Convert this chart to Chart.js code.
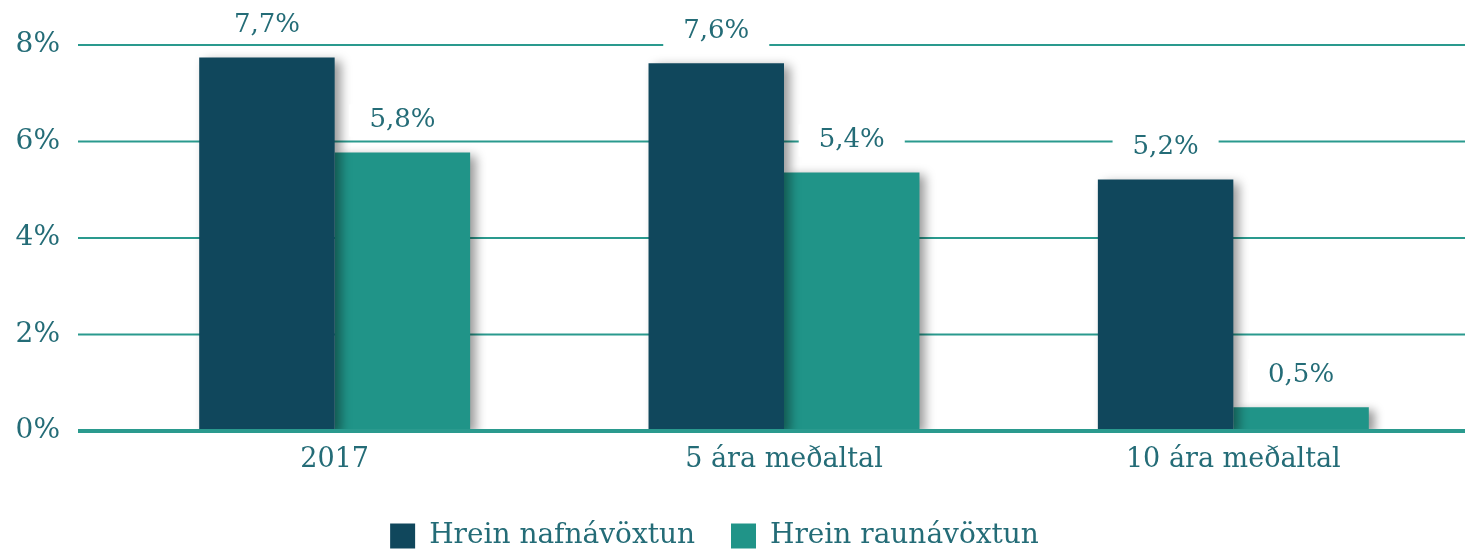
<!DOCTYPE html>
<html>
<head>
<meta charset="utf-8">
<script src="https://cdn.jsdelivr.net/npm/chart.js@4/dist/chart.umd.min.js"></script>
<style>
  html, body { margin: 0; padding: 0; background: #fff; }
  canvas { display: block; }
</style>
</head>
<body>
<canvas id="chart" width="1465" height="549"></canvas>
<script>
const categories = ['2017', '5 ára meðaltal', '10 ára meðaltal'];
const nafnavoxtun = [7.74, 7.62, 5.21];
const raunavoxtun = [5.77, 5.36, 0.49];
const yTicks = [0, 2, 4, 6, 8];

const TEXT = '#246c77';
const GRID = '#2a9a8e';
const FONT = "'DejaVu Serif', serif";

function drawLines(chart, zeroOnly) {
  const { ctx, scales: { y } } = chart;
  ctx.save();
  ctx.strokeStyle = GRID;
  y.ticks.forEach(t => {
    if ((t.value === 0) !== zeroOnly) return;
    const py = y.getPixelForValue(t.value);
    ctx.lineWidth = t.value === 0 ? 4 : 2;
    ctx.beginPath();
    ctx.moveTo(78, py);
    ctx.lineTo(chart.width, py);
    ctx.stroke();
  });
  ctx.restore();
}

// línur, skuggi á súlum og gildi fyrir ofan súlur
const barExtras = {
  id: 'barExtras',
  afterLayout(chart) {
    // færa skýringar aðeins til vinstri
    chart.legend.left -= 22;
    chart.legend.right -= 22;
  },
  beforeDatasetsDraw(chart) {
    drawLines(chart, false);
    const ctx = chart.ctx;
    ctx.save();
    ctx.shadowColor = 'rgba(0,0,0,0.4)';
    ctx.shadowBlur = 10;
    ctx.shadowOffsetX = 6;
    ctx.shadowOffsetY = 3;
  },
  afterDatasetsDraw(chart) {
    const ctx = chart.ctx;
    ctx.restore();
    drawLines(chart, true);

    ctx.save();
    ctx.font = '26px ' + FONT;
    ctx.textAlign = 'center';
    ctx.textBaseline = 'middle';
    chart.data.datasets.forEach((ds, i) => {
      chart.getDatasetMeta(i).data.forEach((bar, j) => {
        const txt = ds.data[j].toFixed(1).replace('.', ',') + '%';
        const w = ctx.measureText(txt).width + 40;
        const cy = bar.y - 32;
        ctx.fillStyle = '#fff';
        ctx.fillRect(bar.x - w / 2, cy - 16, w, 32);
        ctx.fillStyle = TEXT;
        ctx.fillText(txt, bar.x, cy);
      });
    });
    ctx.restore();
  }
};

new Chart(document.getElementById('chart'), {
  type: 'bar',
  data: {
    labels: categories,
    datasets: [
      { label: 'Hrein nafnávöxtun', data: nafnavoxtun, backgroundColor: '#10475c' },
      { label: 'Hrein raunávöxtun', data: raunavoxtun, backgroundColor: '#209488' }
    ]
  },
  options: {
    responsive: false,
    animation: false,
    layout: { padding: { left: 15, right: 7, top: 45, bottom: -11 } },
    datasets: { bar: { barPercentage: 1, categoryPercentage: 0.603 } },
    scales: {
      x: {
        grid: { display: false, drawTicks: false },
        border: { display: false },
        ticks: { color: TEXT, font: { family: FONT, size: 27 }, padding: 13 },
        afterFit: axis => { axis.height = 55; }
      },
      y: {
        min: 0,
        max: 8,
        afterBuildTicks: axis => { axis.ticks = yTicks.map(v => ({ value: v })); },
        afterFit: axis => {
          axis.width = 95;
          axis.paddingTop = 0;
          axis.paddingBottom = 0;
        },
        grid: { display: false, drawTicks: false },
        border: { display: false },
        ticks: {
          color: TEXT,
          font: { family: FONT, size: 28 },
          padding: 50,
          callback: v => v + '%'
        }
      }
    },
    plugins: {
      legend: {
        position: 'bottom',
        labels: {
          color: TEXT,
          font: { family: FONT, size: 28 },
          boxWidth: 25,
          boxHeight: 25,
          padding: 36
        }
      },
      tooltip: { enabled: false }
    }
  },
  plugins: [barExtras]
});
</script>
</body>
</html>
